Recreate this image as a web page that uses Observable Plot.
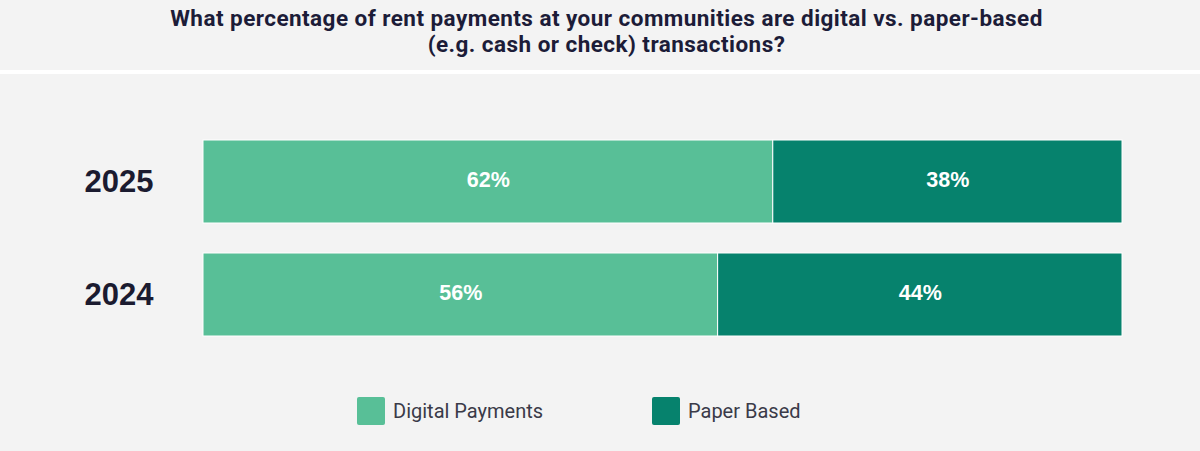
<!DOCTYPE html>
<html>
<head>
<meta charset="utf-8">
<script src="https://cdn.jsdelivr.net/npm/d3@7"></script>
<script src="https://cdn.jsdelivr.net/npm/@observablehq/plot@0.6"></script>
<style>
  html, body { margin: 0; padding: 0; background: #f3f3f3; width: 1200px; height: 451px; overflow: hidden; }
  #title { width: 1200px; height: 70px; box-sizing: border-box; padding-top: 6px; padding-left: 13px; text-align: center; font-family: Roboto, sans-serif; font-weight: 700; font-size: 22.5px; letter-spacing: 0.45px; line-height: 25.5px; color: #1c1c38; }
  #rule { height: 4px; background: #ffffff; }
  #chart svg { display: block; }
  #legend { position: relative; height: 77px; font-family: Roboto, sans-serif; font-size: 20px; color: #3a3a48; }
  .item { position: absolute; top: 23px; display: flex; align-items: center; }
  .sw { width: 28px; height: 28px; border-radius: 2px; margin-right: 8px; }
</style>
</head>
<body>
<div id="title">What percentage of rent payments at your communities are digital vs. paper-based<br>(e.g. cash or check) transactions?</div>
<div id="rule"></div>
<div id="chart"></div>
<div id="legend"></div>
<script>
const years = ["2025", "2024"];
const categories = ["Digital Payments", "Paper Based"];
const digital = [62, 56];
const paper = [38, 44];
const colors = ["#58bf97", "#06826d"];

const data = [];
years.forEach((y, i) => {
  data.push({year: y, category: categories[0], value: digital[i]});
  data.push({year: y, category: categories[1], value: paper[i]});
});

const chart = Plot.plot({
  width: 1200,
  height: 300,
  marginLeft: 203,
  marginRight: 78,
  marginTop: 66,
  marginBottom: 38,
  style: {background: "transparent"},
  x: {domain: [0, 100], axis: null},
  y: {domain: years, paddingInner: 0.2655, paddingOuter: 0, label: null},
  color: {domain: categories, range: colors},
  marks: [
    Plot.barX(data, Plot.stackX({x: "value", y: "year", fill: "category", stroke: "#ffffff", strokeWidth: 1, order: categories})),
    Plot.text(data, Plot.stackX({x: "value", y: "year", z: "category", order: categories, text: d => d.value + "%", fill: "#ffffff", fontSize: 21.5, fontWeight: "bold", fontFamily: "Liberation Sans, Arial, sans-serif", dy: -2})),
    Plot.axisY({tickSize: 0, tickPadding: 50, fontSize: 31, fontWeight: "bold", fontFamily: "Liberation Sans, Arial, sans-serif", fill: "#1b1b30", label: null})
  ]
});
document.getElementById("chart").appendChild(chart);

const legend = document.getElementById("legend");
const lefts = [357, 652];
categories.forEach((c, i) => {
  const item = document.createElement("div");
  item.className = "item";
  item.style.left = lefts[i] + "px";
  const sw = document.createElement("div");
  sw.className = "sw";
  sw.style.background = colors[i];
  const t = document.createElement("span");
  t.textContent = c;
  item.appendChild(sw);
  item.appendChild(t);
  legend.appendChild(item);
});
</script>
</body>
</html>
